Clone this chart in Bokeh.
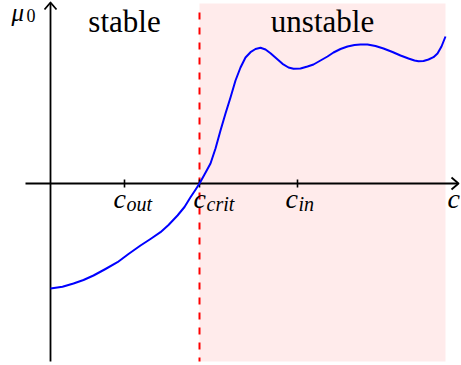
from bokeh.plotting import figure
from bokeh.models import Range1d
from bokeh.core.properties import value
from bokeh.embed import file_html
from bokeh.resources import INLINE

# Stability sketch: mu_0 as a function of concentration c
curve_c = [0, 12, 23, 33, 43, 55, 67, 78, 90, 100, 110, 118, 127, 134, 140, 144.5,
           149, 154, 160, 165, 170, 175, 180, 185, 190, 195, 200, 205, 210, 215,
           220, 226, 232, 238, 243, 250, 257, 263, 270, 277, 283, 290, 297, 304,
           310, 317, 325, 333, 342, 350, 358, 364, 368, 373, 378, 383, 387, 391, 395]
curve_mu = [-105, -103.2, -100, -96.5, -92, -85.5, -78.7, -70.5, -62, -55.5, -48.7,
            -41.5, -32, -23.5, -13.7, -7, 0, 9, 20, 35, 53, 70, 86, 103, 116, 126,
            131.3, 134.5, 135.7, 134, 130.3, 125, 119.7, 116, 114.7, 115, 117, 119,
            123, 127, 131, 134.5, 137, 138.5, 139, 139, 137.5, 135, 131.5, 128, 125,
            123, 122.3, 122.5, 124, 126.3, 130, 137, 147]

tick_subs = ["out", "crit", "in"]
tick_pos = [74, 149, 247]
c_crit = 149
c_max = 395

region_names = ["stable", "unstable"]
region_centers = [74, 272]

serif = value("Liberation Serif")

p = figure(width=461, height=365, output_backend="svg", toolbar_location=None,
           x_range=Range1d(-50, 411), y_range=Range1d(-182, 183),
           min_border=0, background_fill_color="white", border_fill_color="white")
p.axis.visible = False
p.grid.visible = False
p.outline_line_color = None

# shaded unstable region
p.quad(left=[c_crit], right=[c_max], bottom=[-178], top=[180],
       fill_color="#ffebeb", line_color=None)

# critical concentration marker
p.line([c_crit, c_crit], [171, -178], line_color="#ff0000", line_width=2,
       line_dash="7 8")

# axes with open arrow heads
axis_kw = dict(line_color="black", line_width=1.8)
p.line([-25, 407], [0, 0], **axis_kw)
p.line([0, 0], [-178, 180], **axis_kw)
p.line([401, 408, 401], [6, 0, -6], line_join="round", **axis_kw)
p.line([-6, 0, 6], [174, 181, 174], line_join="round", **axis_kw)

# tick marks
for x in tick_pos:
    p.line([x, x], [-4, 4], line_color="black", line_width=1.6)

# mu_0 curve
p.line(curve_c, curve_mu, line_color="#0000ff", line_width=2, line_join="round")

# tick labels c_sub
label_dx = [-11, -6, -12]
for x, sub, dx in zip(tick_pos, tick_subs, label_dx):
    p.text(x=[x + dx], y=[-15], text=["c"], text_font=serif, text_font_style="italic",
           text_font_size="28px", text_color="black", text_baseline="alphabetic",
           text_align="left")
    p.text(x=[x + dx + 13], y=[-20], text=[sub], text_font=serif,
           text_font_style="italic", text_font_size="20px", text_color="black",
           text_baseline="alphabetic", text_align="left")

# axis labels
p.text(x=[397], y=[-15], text=["c"], text_font=serif, text_font_style="italic",
       text_font_size="28px", text_color="black", text_baseline="alphabetic")
p.text(x=[-39], y=[171], text=["μ"], text_font=serif, text_font_style="italic",
       text_font_size="25px", text_color="black", text_baseline="alphabetic")
p.text(x=[-24], y=[168], text=["0"], text_font=serif,
       text_font_size="18px", text_color="black", text_baseline="alphabetic")

# region names
p.text(x=region_centers, y=[162, 162], text=region_names, text_font=serif,
       text_font_size="31px", text_color="black", text_baseline="alphabetic",
       text_align="center")

open("out.html", "w").write(file_html(p, INLINE))
